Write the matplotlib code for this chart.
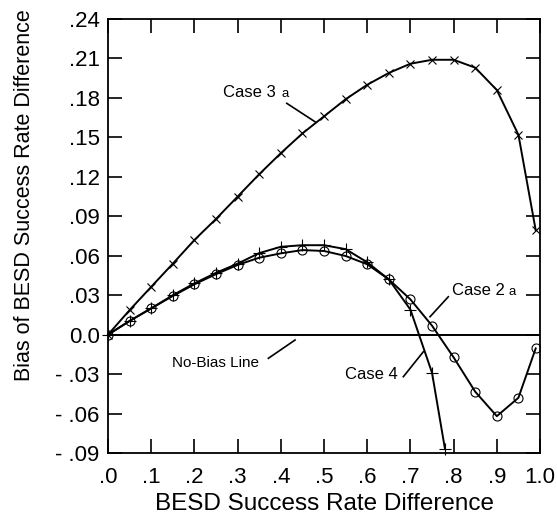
import numpy as np
import matplotlib
matplotlib.use("Agg")
import matplotlib.pyplot as plt

plt.rcParams['font.family'] = ['Liberation Sans', 'DejaVu Sans']

# data
x_full = [0.0, 0.05, 0.10, 0.15, 0.20, 0.25, 0.30, 0.35, 0.40, 0.45, 0.50,
          0.55, 0.60, 0.65, 0.70, 0.75, 0.80, 0.85, 0.90, 0.95, 0.99]
case3a = [0.0, 0.0187, 0.0364, 0.054, 0.072, 0.088, 0.105, 0.122, 0.138, 0.153, 0.166,
          0.179, 0.190, 0.199, 0.206, 0.209, 0.209, 0.203, 0.186, 0.152, 0.0795]
case2a = [0.0, 0.0104, 0.020, 0.0294, 0.0383, 0.046, 0.053, 0.0585, 0.0618, 0.0643, 0.0636,
          0.0598, 0.0535, 0.042, 0.0268, 0.0068, -0.0173, -0.0434, -0.062, -0.048, -0.0105]
x_case4 = [0.0, 0.05, 0.10, 0.15, 0.20, 0.25, 0.30, 0.35, 0.40, 0.45, 0.50,
           0.55, 0.60, 0.65, 0.70, 0.75, 0.78]
case4 = [0.0, 0.0104, 0.020, 0.030, 0.039, 0.047, 0.054, 0.062, 0.0668, 0.068, 0.068,
         0.065, 0.055, 0.042, 0.019, -0.029, -0.087]

xticks = [0.0, 0.1, 0.2, 0.3, 0.4, 0.5, 0.6, 0.7, 0.8, 0.9, 1.0]
xticklabels = ['.0', '.1', '.2', '.3', '.4', '.5', '.6', '.7', '.8', '.9', '1.0']
yticks = [-0.09, -0.06, -0.03, 0.0, 0.03, 0.06, 0.09, 0.12, 0.15, 0.18, 0.21, 0.24]
yticklabels = ['- .09', '- .06', '- .03', '0.0', '.03', '.06', '.09', '.12', '.15', '.18', '.21', '.24']

fig = plt.figure(figsize=(5.57, 5.18), dpi=100)
ax = fig.add_axes([0.194, 0.1255, 0.7755, 0.8378])

ax.axhline(0, color='black', lw=1.4, zorder=1)
ax.plot(x_full, case3a, color='black', lw=1.4, marker='x', ms=6, mew=0.8, mfc='none')
ax.plot(x_full, case2a, color='black', lw=1.4, marker='o', ms=6.5, mew=0.8, mfc='none')
ax.plot(x_case4, case4, color='black', lw=1.4, marker='+', ms=9, mew=0.8, clip_on=False)

ax.set_xlim(0, 1.0)
ax.set_ylim(-0.09, 0.24)
ax.set_xticks(xticks)
ax.set_xticklabels(xticklabels)
ax.set_yticks(yticks)
ax.set_yticklabels(yticklabels)
ax.tick_params(direction='in', length=10, width=1.2, top=True, right=True,
               labelsize=16, pad=6)
ax.tick_params(axis='x', pad=10)
for s in ax.spines.values():
    s.set_linewidth(1.3)

ax.set_xlabel('BESD Success Rate Difference', fontsize=17.5, labelpad=4)
ax.set_ylabel('Bias of BESD Success Rate Difference', fontsize=15.5)
ax.yaxis.set_label_coords(-0.168, 0.595)

# annotations
ax.text(0.267, 0.1807, 'Case 3', fontsize=12)
ax.text(0.402, 0.1807, 'a', fontsize=9.5)
ax.plot([0.4137, 0.479], [0.1759, 0.1619], color='black', lw=1.2)

ax.text(0.7956, 0.0301, 'Case 2', fontsize=12)
ax.text(0.9266, 0.0301, 'a', fontsize=9.5)
ax.plot([0.7877, 0.7454], [0.0288, 0.0136], color='black', lw=1.2)

ax.text(0.1474, -0.0244, 'No-Bias Line', fontsize=11)
ax.plot([0.3711, 0.4329], [-0.018, -0.0041], color='black', lw=1.2)

ax.text(0.5486, -0.034, 'Case 4', fontsize=12)
ax.plot([0.6836, 0.7299], [-0.032, -0.013], color='black', lw=1.2)

fig.savefig('out.png', dpi=100)
